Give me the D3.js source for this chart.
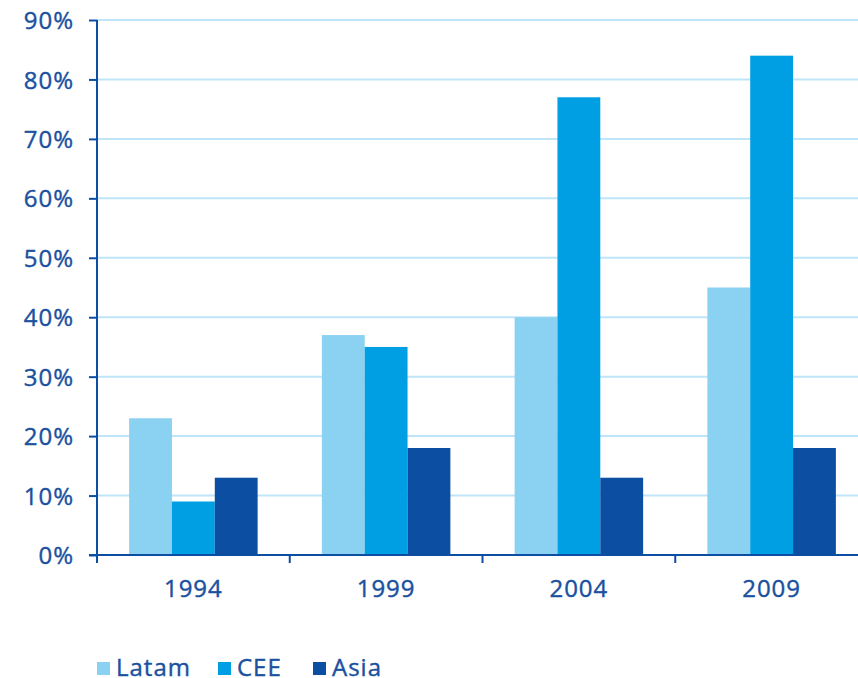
<!DOCTYPE html>
<html>
<head>
<meta charset="utf-8">
<script src="https://cdn.jsdelivr.net/npm/d3@7"></script>
<style>
  body { margin: 0; background: #fff; }
  svg { display: block; }
  text { font-family: "Open Sans", "DejaVu Sans", sans-serif; fill: #1a51a0; stroke: #1a51a0; stroke-width: 0.4px; letter-spacing: 1px; }
</style>
</head>
<body>
<div id="chart"></div>
<script>
// data
var years = ["1994", "1999", "2004", "2009"];
var seriesNames = ["Latam", "CEE", "Asia"];
var latam = [23, 37, 40, 45];
var cee = [9, 35, 77, 84];
var asia = [13, 18, 13, 18];
var yTicks = [0, 10, 20, 30, 40, 50, 60, 70, 80, 90];

var colors = { Latam: "#8bd1f2", CEE: "#009fe3", Asia: "#0b4ea2" };

var svgWidth = 858;
var svgHeight = 678;
var margin = { top: 20, right: -10, bottom: 123, left: 97 };
var width = svgWidth - margin.left - margin.right;
var height = svgHeight - margin.top - margin.bottom;

var rows = years.map(function(y, i) {
  return { year: y, Latam: latam[i], CEE: cee[i], Asia: asia[i] };
});

var svg = d3.select("#chart").append("svg")
  .attr("width", svgWidth)
  .attr("height", svgHeight);

var chartGroup = svg.append("g")
  .attr("transform", `translate(${margin.left}, ${margin.top})`);

var x0 = d3.scaleBand().domain(years).range([0, width]).padding(0);
var x1 = d3.scaleBand().domain(seriesNames)
  .range([x0.bandwidth() / 6, x0.bandwidth() * 5 / 6]).padding(0);
var y = d3.scaleLinear().domain([0, 90]).range([height, 0]);

// gridlines
chartGroup.append("g")
  .selectAll("line")
  .data(yTicks.filter(d => d > 0))
  .enter().append("line")
  .attr("x1", 0)
  .attr("x2", width)
  .attr("y1", d => y(d))
  .attr("y2", d => y(d))
  .attr("stroke", "#bfe6f8")
  .attr("stroke-width", 2);

// bars
var groups = chartGroup.selectAll(".grp")
  .data(rows)
  .enter().append("g")
  .attr("transform", d => `translate(${x0(d.year)}, 0)`);

groups.selectAll("rect")
  .data(d => seriesNames.map(k => ({ key: k, value: d[k] })))
  .enter().append("rect")
  .attr("x", d => x1(d.key))
  .attr("y", d => y(d.value))
  .attr("width", x1.bandwidth())
  .attr("height", d => height - y(d.value))
  .attr("fill", d => colors[d.key]);

// y axis
var leftAxis = d3.axisLeft(y)
  .tickValues(yTicks)
  .tickSize(8)
  .tickPadding(15)
  .tickFormat(d => d + "%");

var yAxisG = chartGroup.append("g").call(leftAxis);
yAxisG.select(".domain").attr("stroke", "#0b4ea2").attr("stroke-width", 2)
  .attr("d", `M0,${y(90)}V${height}`);
yAxisG.selectAll(".tick line").attr("stroke", "#0b4ea2").attr("stroke-width", 2);
yAxisG.selectAll(".tick text").style("font-size", "24px").attr("dy", "0.36em");

// x axis
var xTickScale = d3.scaleLinear().domain([0, years.length]).range([0, width]);
var xAxisG = chartGroup.append("g")
  .attr("transform", `translate(0, ${height})`);

xAxisG.append("line")
  .attr("x1", -8).attr("x2", width)
  .attr("y1", 0).attr("y2", 0)
  .attr("stroke", "#0b4ea2").attr("stroke-width", 2);

xAxisG.selectAll(".bound")
  .data(d3.range(years.length + 1))
  .enter().append("line")
  .attr("x1", d => xTickScale(d)).attr("x2", d => xTickScale(d))
  .attr("y1", 0).attr("y2", 8)
  .attr("stroke", "#0b4ea2").attr("stroke-width", 2);

xAxisG.selectAll(".lbl")
  .data(years)
  .enter().append("text")
  .attr("x", d => x0(d) + x0.bandwidth() / 2)
  .attr("y", 42)
  .attr("text-anchor", "middle")
  .style("font-size", "24px")
  .text(d => d);

// legend
var legendX = [97, 218, 313];
var legend = svg.append("g");
seriesNames.forEach(function(s, i) {
  legend.append("rect")
    .attr("x", legendX[i]).attr("y", 662)
    .attr("width", 13).attr("height", 13)
    .attr("fill", colors[s]);
  legend.append("text")
    .attr("x", legendX[i] + 19).attr("y", 676)
    .style("font-size", "24px")
    .text(s);
});
</script>
</body>
</html>
